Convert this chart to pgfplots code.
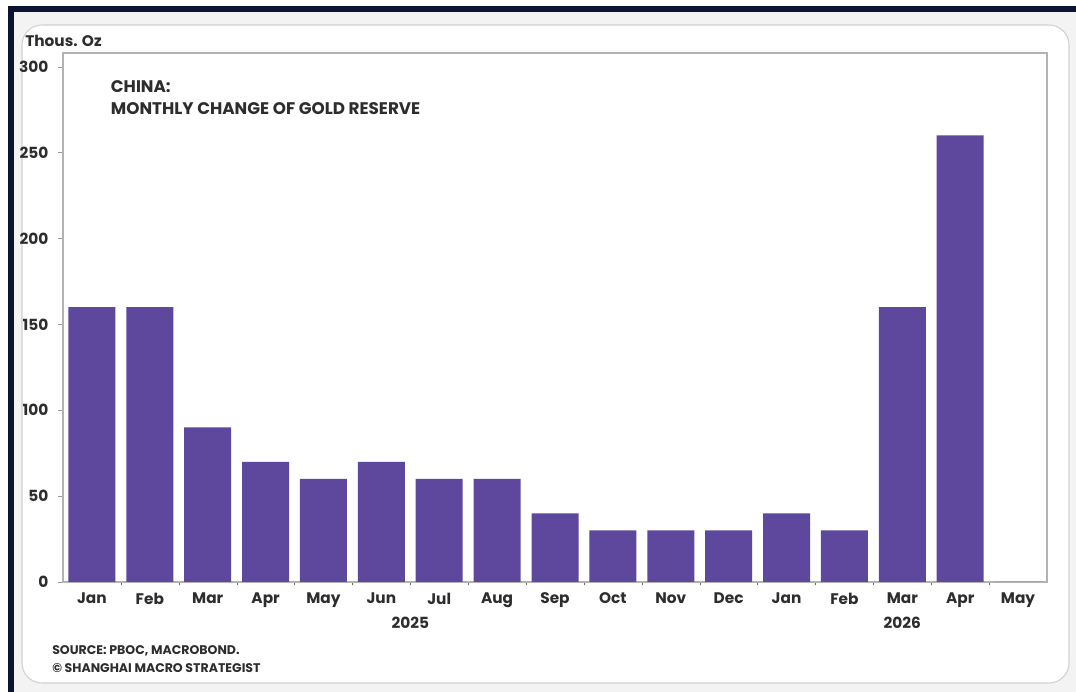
\documentclass[border=0pt]{standalone}
\usepackage{pgfplots}
\pgfplotsset{compat=1.18}
\usepackage{fontspec}
\setmainfont{Poppins}
\definecolor{barc}{RGB}{94,72,158}
\definecolor{navy}{RGB}{12,20,50}
\definecolor{txt}{RGB}{45,45,45}
\definecolor{bg}{RGB}{243,243,243}
\begin{document}
\begin{tikzpicture}
\fill[white] (0pt,0pt) rectangle (807pt,519pt);
\fill[navy] (6pt,0pt) rectangle (807pt,514.5pt);
\fill[bg] (10.5pt,0pt) rectangle (807pt,510pt);
\fill[white,draw=black!18,line width=0.8pt,rounded corners=15pt] (16.5pt,6.75pt) rectangle (801.75pt,500.25pt);
\begin{axis}[
  at={(47.25pt,82.5pt)}, anchor=south west,
  scale only axis, width=738pt, height=396.75pt,
  ybar, bar width=35.25pt,
  xmin=-0.5, xmax=16.5, ymin=0, ymax=308,
  xtick={0,...,16},
  xticklabels={Jan,Feb,Mar,Apr,May,Jun,Jul,Aug,Sep,Oct,Nov,Dec,Jan,Feb,Mar,Apr,May},
  minor xtick={0.5,1.5,...,15.5},
  ytick={0,50,...,300},
  major x tick style={draw=none},
  minor x tick style={draw=black!60},
  minor tick length=2.5pt,
  major tick length=3.5pt,
  major y tick style={draw=black!40},
  tick align=outside,
  ytick pos=left, xtick pos=bottom,
  axis line style={draw=black!30, line width=0.8pt},
  tick label style={font=\bfseries\fontsize{11.5}{13}\selectfont, text=txt},
  xticklabel style={yshift=-1pt},
  yticklabel style={xshift=-4pt},
  /pgf/number format/assume math mode=true,
  clip=false,
]
\addplot[fill=barc, draw=none] coordinates {
(0,160) (1,160) (2,90) (3,70) (4,60) (5,70) (6,60) (7,60) (8,40) (9,30) (10,30) (11,30) (12,40) (13,30) (14,160) (15,260) (16,0)
};
\node[font=\bfseries\fontsize{11.5}{13}\selectfont, text=txt] at (axis cs:5.5,0) [yshift=-30.5pt] {2025};
\node[font=\bfseries\fontsize{11.5}{13}\selectfont, text=txt] at (axis cs:14,0) [yshift=-30.5pt] {2026};
\end{axis}
\node[anchor=base west, font=\bfseries\fontsize{11.5}{13}\selectfont, text=txt, inner sep=0] at (18.75pt,483.75pt) {Thous. Oz};
\node[anchor=base west, font=\bfseries\fontsize{12.6}{14}\selectfont, text=txt, inner sep=0] at (83pt,449.5pt) {CHINA:};
\node[anchor=base west, font=\bfseries\fontsize{12.6}{14}\selectfont, text=txt, inner sep=0] at (83pt,432.75pt) {MONTHLY CHANGE OF GOLD RESERVE};
\node[anchor=base west, font=\bfseries\fontsize{9.4}{10}\selectfont, text=txt, inner sep=0] at (39pt,27.75pt) {SOURCE: PBOC, MACROBOND.};
\node[anchor=base west, font=\bfseries\fontsize{9.4}{10}\selectfont, text=txt, inner sep=0] at (39pt,14.5pt) {© SHANGHAI MACRO STRATEGIST};
\end{tikzpicture}
\end{document}
